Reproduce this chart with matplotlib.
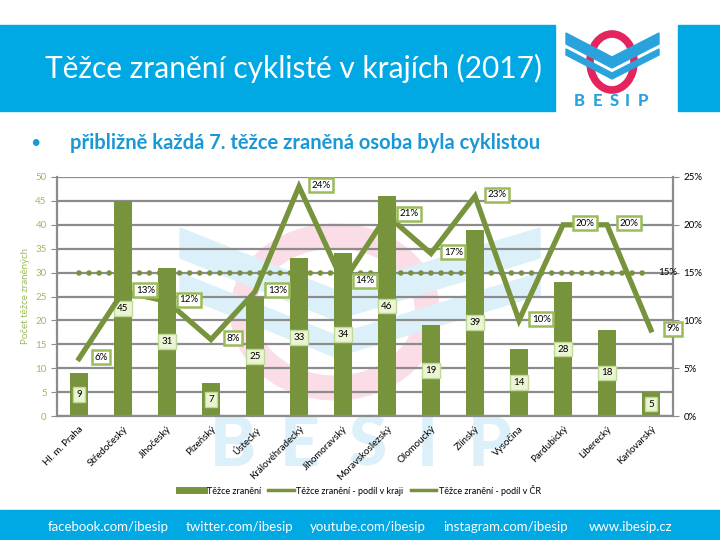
import matplotlib.pyplot as plt
from matplotlib.patches import Rectangle, Ellipse, Polygon
from matplotlib.lines import Line2D
from matplotlib.ticker import FuncFormatter

regions = ["Hl. m. Praha", "Středočeský", "Jihočeský", "Plzeňský", "Ústecký",
           "Královéhradecký", "Jihomoravský", "Moravskoslezský", "Olomoucký",
           "Zlínský", "Vysočina", "Pardubický", "Liberecký", "Karlovarský"]
injured = [9, 45, 31, 7, 25, 33, 34, 46, 19, 39, 14, 28, 18, 5]
share_region = [6, 13, 12, 8, 13, 24, 14, 21, 17, 23, 10, 20, 20, 9]
share_cr = [15, 15, 15, 15, 15, 15, 15, 15, 15, 15, 15, 15, 15, 15]

GREEN = "#77933c"
LGREEN = "#9bbb59"
BLUE = "#00a8e4"

plt.rcParams["font.family"] = ["Lato", "DejaVu Sans"]
fig = plt.figure(figsize=(7.2, 5.4), dpi=100)

# background layer in pixel coordinates (banners, logo, watermark)
bg = fig.add_axes([0, 0, 1, 1], zorder=-1)
bg.set_xlim(0, 720)
bg.set_ylim(540, 0)
bg.axis("off")

bg.add_patch(Rectangle((0, 25), 555, 86, color=BLUE))
bg.add_patch(Rectangle((678, 25), 42, 86, color=BLUE))
bg.add_patch(Rectangle((0, 510), 720, 30, color=BLUE))

# watermark
bg.add_patch(Ellipse((335, 312), 185, 152, fill=False, ec="#fadde6", lw=18))
for dy, h in [(0, 30), (45, 22)]:
    bg.add_patch(Polygon([(180, 228 + dy), (335, 290 + dy), (540, 228 + dy),
                          (540, 228 + dy + h), (335, 290 + dy + h), (180, 228 + dy + h)],
                         color="#dcf0fa"))
for xc, ch in zip([233, 300, 368, 427, 490], "BESIP"):
    bg.text(xc, 446, ch, color="#dcf0fa", fontsize=50, fontweight="black",
            ha="center", va="center")

# logo
bg.add_patch(Ellipse((612, 62), 44, 56, fill=False, ec="#e4245e", lw=5.5))
for y0, h in [(33, 11), (49, 6)]:
    bg.add_patch(Polygon([(566, y0), (612, y0 + 24), (659, y0), (659, y0 + h),
                          (612, y0 + 24 + h), (566, y0 + h)], color="#2aa3dc"))
for xc, ch in zip([579, 597, 614, 627, 643], "BESIP"):
    bg.text(xc, 101, ch, color="#2aa3dc", fontsize=12, fontweight="black",
            ha="center", va="center")

bg.text(45, 68, "Těžce zranění cyklisté v krajích (2017)", color="white",
        fontsize=21.5, va="center", ha="left")
bg.text(30, 143, "•", color="#1a98d5", fontsize=13, va="center")
bg.text(70, 143, "přibližně každá 7. těžce zraněná osoba byla cyklistou",
        color="#1a98d5", fontsize=14.5, fontweight="bold", va="center")

for xc, t in [(108, "facebook.com/ibesip"), (239, "twitter.com/ibesip"),
              (368, "youtube.com/ibesip"), (506, "instagram.com/ibesip"),
              (631, "www.ibesip.cz")]:
    bg.text(xc, 527, t, color="white", fontsize=9.5, ha="center", va="center")

# main chart
ax = fig.add_axes([57 / 720, 1 - 416 / 540, 616 / 720, 239 / 540])
ax.set_facecolor("none")
x = range(len(regions))
bars = ax.bar(x, injured, width=0.39, color=GREEN, zorder=2)
ax.bar_label(bars, label_type="center", fontsize=7,
             bbox=dict(boxstyle="square,pad=0.3", fc="#ebf5d3", ec="#c0d898", lw=1))
ax.set_xlim(-0.5, len(regions) - 0.5)
ax.set_ylim(0, 50)
ax.set_yticks(range(0, 51, 5))
ax.yaxis.grid(True, color="#8c8c8c", lw=1.6)
ax.set_axisbelow(True)
ax.tick_params(axis="y", colors=LGREEN, labelsize=7, length=4, color="#8c8c8c")
ax.tick_params(axis="x", length=0, labelsize=7, pad=6)
ax.set_xticks(list(x))
ax.set_xticklabels(regions, rotation=45, ha="right", rotation_mode="anchor")
ax.set_ylabel("Počet těžce zraněných", color=LGREEN, fontsize=7, labelpad=4)
for s in ["left", "right", "bottom"]:
    ax.spines[s].set_color("#8c8c8c")
    ax.spines[s].set_linewidth(1.6)
ax.spines["top"].set_visible(False)

ax2 = ax.twinx()
ax2.set_ylim(0, 25)
ax2.set_yticks(range(0, 26, 5))
ax2.yaxis.set_major_formatter(FuncFormatter(lambda v, p: f"{v:.0f}%"))
ax2.tick_params(axis="y", labelsize=7, length=4, color="#8c8c8c")
for s in ["left", "right", "bottom", "top"]:
    ax2.spines[s].set_visible(False)

ax2.plot(x, share_region, color=GREEN, lw=3.8, solid_joinstyle="miter", zorder=3)
ax2.plot(x, share_cr, color=GREEN, lw=4, linestyle=(0, (0.01, 1.8)),
         dash_capstyle="round", zorder=3)
for xi, v in zip(x, share_region):
    ax2.annotate(f"{v}%", (xi, v), xytext=(16, 1), textcoords="offset points",
                 ha="center", va="center", fontsize=7, zorder=4,
                 bbox=dict(boxstyle="square,pad=0.25", fc="white", ec=LGREEN, lw=1.8))
ax2.annotate(f"{share_cr[-1]}%", (len(regions) - 1, share_cr[-1]), xytext=(12, 0),
             textcoords="offset points", ha="center", va="center", fontsize=7)

handles = [Line2D([], [], color=GREEN, lw=5),
           Line2D([], [], color=GREEN, lw=2.5),
           Line2D([], [], color=GREEN, lw=2.5)]
fig.legend(handles, ["Těžce zranění", "Těžce zranění - podíl v kraji",
                     "Těžce zranění - podíl v ČR"],
           loc="center", bbox_to_anchor=(360 / 720, 1 - 490 / 540), ncol=3,
           frameon=False, fontsize=6.5, handlelength=2.8, columnspacing=0.8,
           handletextpad=0.3)

fig.savefig("out.png", dpi=100)
